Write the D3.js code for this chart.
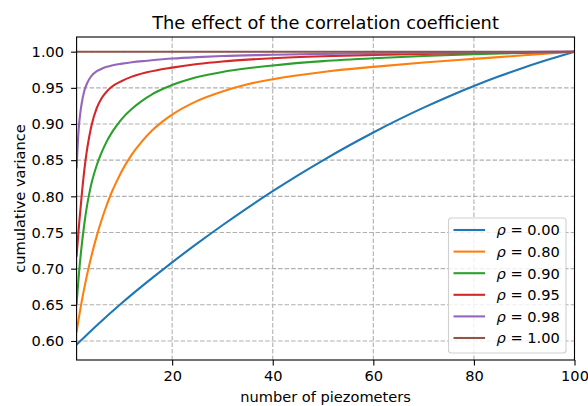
<!DOCTYPE html>
<html>
<head>
<meta charset="utf-8">
<script src="https://cdn.jsdelivr.net/npm/d3@7"></script>
<style>
  body { margin: 0; background: #fff; }
  svg { font-family: "DejaVu Sans", sans-serif; }
</style>
</head>
<body>
<svg id="svg" width="588" height="406"></svg>
<script>
// values
const rhoLabels = ["0.00", "0.80", "0.90", "0.95", "0.98", "1.00"];
const colours = ["#1f77b4", "#ff7f0e", "#2ca02c", "#d62728", "#9467bd", "#8c564b"];

const rho000 = [[1,0.595],[5,0.6215],[10,0.6525],[15,0.6813],[20,0.7087],[25,0.7349],[30,0.7600],[35,0.7841],[40,0.8071],[45,0.8290],[50,0.8498],[55,0.8696],[60,0.8883],[65,0.9060],[70,0.9226],[75,0.9381],[80,0.9525],[85,0.9659],[90,0.9782],[95,0.9894],[100,1.0]];
const rho080 = [[1,0.613],[2,0.654],[3,0.689],[4,0.719],[5,0.745],[6,0.768],[7,0.788],[8,0.806],[9,0.821],[10,0.835],[12,0.858],[14,0.876],[16,0.891],[18,0.903],[20,0.913],[25,0.932],[30,0.945],[35,0.955],[40,0.962],[50,0.972],[60,0.979],[70,0.985],[80,0.990],[90,0.995],[100,1.0]];
const rho090 = [[1,0.652],[1.5,0.696],[2,0.731],[2.5,0.760],[3,0.784],[3.5,0.803],[4,0.819],[5,0.843],[6,0.861],[7,0.876],[8,0.888],[9,0.898],[10,0.907],[12,0.921],[14,0.932],[16,0.941],[18,0.948],[20,0.954],[25,0.965],[30,0.972],[35,0.977],[40,0.981],[50,0.987],[60,0.991],[70,0.994],[80,0.9965],[90,0.9984],[100,1.0]];
const rho095 = [[1,0.718],[1.5,0.762],[2,0.800],[2.5,0.834],[3,0.861],[3.5,0.882],[4,0.899],[5,0.922],[6,0.936],[7,0.945],[8,0.9515],[10,0.9595],[12,0.9655],[15,0.9715],[20,0.978],[25,0.983],[30,0.9865],[35,0.989],[40,0.991],[50,0.9937],[60,0.9955],[70,0.997],[80,0.9982],[90,0.9992],[100,1.0]];
const rho098 = [[1,0.840],[1.25,0.875],[1.5,0.900],[1.75,0.916],[2,0.928],[2.5,0.945],[3,0.955],[3.5,0.962],[4,0.967],[5,0.973],[6,0.9765],[7,0.979],[8,0.981],[10,0.9835],[12,0.9855],[15,0.9875],[20,0.9905],[25,0.9925],[30,0.994],[40,0.9958],[50,0.997],[60,0.9979],[70,0.9986],[80,0.9991],[90,0.9996],[100,1.0]];
const rho100 = [[1,1.0],[100,1.0]];
const allSeries = [rho000, rho080, rho090, rho095, rho098, rho100];

const xTicks = [20, 40, 60, 80, 100];
const yTicks = [0.60, 0.65, 0.70, 0.75, 0.80, 0.85, 0.90, 0.95, 1.00];

// plot area
const svg = d3.select("svg");
const mLeft = 76.6, mRight = 574.5, mTop = 37, mBottom = 360;

const x = d3.scaleLinear().domain([1, 100]).range([mLeft, mRight]);
const y = d3.scaleLinear().domain([0.5737, 1.0203]).range([mBottom, mTop]);

// grid
const grid = svg.append("g");
grid.selectAll(".gx").data(xTicks).enter().append("line")
  .attr("x1", d => x(d)).attr("x2", d => x(d))
  .attr("y1", mTop).attr("y2", mBottom)
  .attr("stroke", "#b0b0b0").attr("stroke-width", 1.1).attr("stroke-dasharray", "4.5,2");
grid.selectAll(".gy").data(yTicks).enter().append("line")
  .attr("x1", mLeft).attr("x2", mRight)
  .attr("y1", d => y(d)).attr("y2", d => y(d))
  .attr("stroke", "#b0b0b0").attr("stroke-width", 1.1).attr("stroke-dasharray", "4.5,2");

// lines
svg.append("defs").append("clipPath").attr("id", "clip")
  .append("rect").attr("x", mLeft).attr("y", mTop).attr("width", mRight - mLeft).attr("height", mBottom - mTop);

const line = d3.line()
  .x(d => x(d[0]))
  .y(d => y(d[1]))
  .curve(d3.curveMonotoneX);

svg.append("g").attr("clip-path", "url(#clip)")
  .selectAll("path").data(allSeries).enter().append("path")
  .attr("d", line)
  .attr("fill", "none")
  .attr("stroke", (d, i) => colours[i])
  .attr("stroke-width", 2.1)
  .attr("stroke-linecap", "square");

// axes
const xAxis = d3.axisBottom(x).tickValues(xTicks).tickSize(5.5).tickPadding(5.5);
const yAxis = d3.axisLeft(y).tickValues(yTicks).tickSize(5.5).tickPadding(7).tickFormat(d3.format(".2f"));

const gx = svg.append("g").attr("transform", `translate(0,${mBottom})`).call(xAxis);
const gy = svg.append("g").attr("transform", `translate(${mLeft},0)`).call(yAxis);
[gx, gy].forEach(g => {
  g.select(".domain").remove();
  g.selectAll("line").attr("stroke", "#000").attr("stroke-width", 1.1);
  g.selectAll("text").attr("font-size", "14.6px").attr("fill", "#000")
    .attr("font-family", "DejaVu Sans");
});

// frame
svg.append("rect").attr("x", mLeft).attr("y", mTop)
  .attr("width", mRight - mLeft).attr("height", mBottom - mTop)
  .attr("fill", "none").attr("stroke", "#000").attr("stroke-width", 1.1);

// labels
svg.append("text").attr("x", (mLeft + mRight) / 2).attr("y", 29)
  .attr("text-anchor", "middle").attr("font-size", "17.8px")
  .text("The effect of the correlation coefficient");
svg.append("text").attr("x", (mLeft + mRight) / 2).attr("y", 401.5)
  .attr("text-anchor", "middle").attr("font-size", "14.6px")
  .text("number of piezometers");
svg.append("text")
  .attr("transform", `translate(25,${(mTop + mBottom) / 2}) rotate(-90)`)
  .attr("text-anchor", "middle").attr("font-size", "14.6px")
  .text("cumulative variance");

// legend
const lg = svg.append("g").attr("transform", "translate(448.5,218)");
lg.append("rect").attr("width", 117.5).attr("height", 135).attr("rx", 3)
  .attr("fill", "#fff").attr("fill-opacity", 0.8)
  .attr("stroke", "#d0d0d0").attr("stroke-width", 1.1);
rhoLabels.forEach((lab, i) => {
  const yy = 12 + i * 21.6;
  lg.append("line").attr("x1", 5).attr("x2", 36.5).attr("y1", yy).attr("y2", yy)
    .attr("stroke", colours[i]).attr("stroke-width", 2.1);
  const t = lg.append("text").attr("x", 48).attr("y", yy + 5.3).attr("font-size", "14.6px");
  t.append("tspan").attr("font-style", "italic").text("ρ");
  t.append("tspan").text(" = " + lab);
});
</script>
</body>
</html>
